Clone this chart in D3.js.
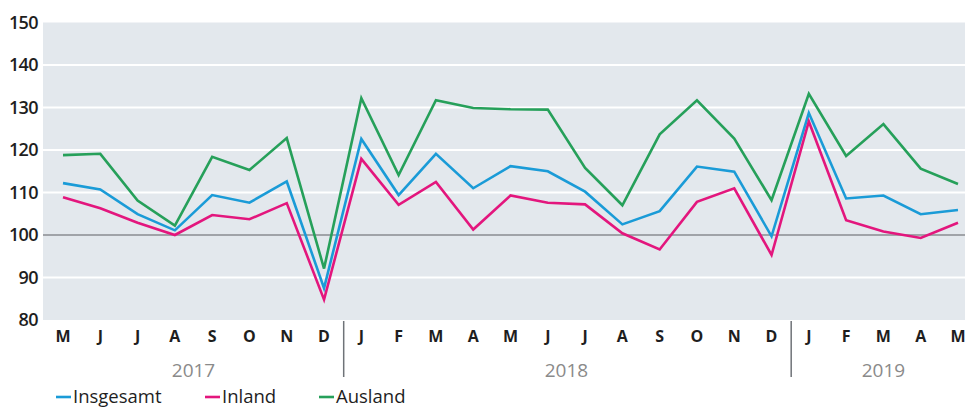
<!DOCTYPE html>
<html>
<head>
  <meta charset="utf-8">
  <script src="https://d3js.org/d3.v7.min.js"></script>
  <style>
    body { margin: 0; background: #fff; }
    text { font-family: "Open Sans", sans-serif; }
  </style>
</head>
<body>
  <svg width="965" height="410"></svg>
  <script>
    // data (index, 2015 = 100)
    var months = ["M","J","J","A","S","O","N","D",
                  "J","F","M","A","M","J","J","A","S","O","N","D",
                  "J","F","M","A","M"];
    var years = [{label: "2017", from: 0, to: 7},
                 {label: "2018", from: 8, to: 19},
                 {label: "2019", from: 20, to: 24}];
    var insgesamt = [112.2,110.7,104.9,101.1,109.4,107.6,112.6,87.5,
                     122.6,109.4,119.1,111.0,116.2,115.0,110.2,102.5,105.6,116.1,114.9,99.7,
                     128.7,108.6,109.3,104.9,105.9];
    var inland = [108.9,106.3,102.9,100.0,104.7,103.7,107.5,84.8,
                  117.9,107.1,112.5,101.3,109.3,107.6,107.2,100.4,96.6,107.8,111.0,95.3,
                  126.7,103.5,100.8,99.3,102.9];
    var ausland = [118.8,119.1,108.1,102.2,118.4,115.3,122.8,92.1,
                   132.2,114.1,131.7,129.9,129.6,129.5,115.8,107.0,123.7,131.7,122.7,108.2,
                   133.2,118.6,126.1,115.6,112.0];
    var yTicks = [80, 90, 100, 110, 120, 130, 140, 150];
    var series = [
      {name: "Insgesamt", values: insgesamt, color: "#1a9bd7"},
      {name: "Inland", values: inland, color: "#e3167d"},
      {name: "Ausland", values: ausland, color: "#26a05a"}
    ];

    var svg = d3.select("svg");
    var plot = {left: 43, right: 965, top: 22.5, bottom: 320};

    var x = d3.scalePoint()
        .domain(d3.range(months.length))
        .range([63, 958]);
    var y = d3.scaleLinear()
        .domain([80, 150])
        .range([plot.bottom, plot.top]);

    // background
    svg.append("rect")
        .attr("x", plot.left)
        .attr("y", plot.top)
        .attr("width", plot.right - plot.left)
        .attr("height", plot.bottom - plot.top)
        .attr("fill", "#e3e8ed");

    // gridlines
    svg.append("g").selectAll("line")
      .data(yTicks.filter(function(d) { return d > 80 && d < 150; }))
      .enter().append("line")
        .attr("x1", plot.left)
        .attr("x2", plot.right)
        .attr("y1", function(d) { return y(d); })
        .attr("y2", function(d) { return y(d); })
        .attr("stroke", function(d) { return d === 100 ? "#8a8d90" : "#fff"; })
        .attr("stroke-width", function(d) { return d === 100 ? 1.3 : 2; });

    // y labels
    svg.append("g").selectAll("text")
      .data(yTicks)
      .enter().append("text")
        .attr("x", 38)
        .attr("y", function(d) { return y(d); })
        .attr("dy", "0.36em")
        .attr("text-anchor", "end")
        .attr("font-size", 18)
        .attr("font-weight", 600)
        .attr("fill", "#1e1e1e")
        .attr("letter-spacing", -0.6)
        .text(function(d) { return d; });

    // lines
    var line = d3.line()
        .x(function(d, i) { return x(i); })
        .y(function(d) { return y(d); });

    svg.append("g").selectAll("path")
      .data(series)
      .enter().append("path")
        .attr("fill", "none")
        .attr("stroke", function(d) { return d.color; })
        .attr("stroke-width", 2.6)
        .attr("stroke-linejoin", "miter")
        .attr("d", function(d) { return line(d.values); });

    // month labels
    svg.append("g").selectAll("text")
      .data(months)
      .enter().append("text")
        .attr("x", function(d, i) { return x(i); })
        .attr("y", 336)
        .attr("dy", "0.36em")
        .attr("text-anchor", "middle")
        .attr("font-size", 16)
        .attr("font-weight", 700)
        .attr("fill", "#1e1e1e")
        .text(function(d) { return d; });

    // year separators
    var step = x.step();
    svg.append("g").selectAll("line")
      .data(years.slice(1))
      .enter().append("line")
        .attr("x1", function(d) { return x(d.from) - step / 2 + 1; })
        .attr("x2", function(d) { return x(d.from) - step / 2 + 1; })
        .attr("y1", plot.bottom + 1)
        .attr("y2", 377)
        .attr("stroke", "#6f7378")
        .attr("stroke-width", 1.5);

    // year labels
    svg.append("g").selectAll("text")
      .data(years)
      .enter().append("text")
        .attr("x", function(d) { return (x(d.from) + x(d.to)) / 2; })
        .attr("y", 370)
        .attr("dy", "0.36em")
        .attr("text-anchor", "middle")
        .attr("font-size", 19)
        .attr("fill", "#8a8a8a")
        .text(function(d) { return d.label; });

    // legend
    var legendX = [56, 205, 319];
    var legend = svg.append("g").selectAll("g")
      .data(series)
      .enter().append("g")
        .attr("transform", function(d, i) { return "translate(" + legendX[i] + ",397)"; });
    legend.append("line")
        .attr("x1", 0).attr("x2", 15)
        .attr("stroke", function(d) { return d.color; })
        .attr("stroke-width", 2.6);
    legend.append("text")
        .attr("x", 17)
        .attr("dy", "0.34em")
        .attr("font-size", 18.5)
        .attr("fill", "#1e1e1e")
        .text(function(d) { return d.name; });
  </script>
</body>
</html>
